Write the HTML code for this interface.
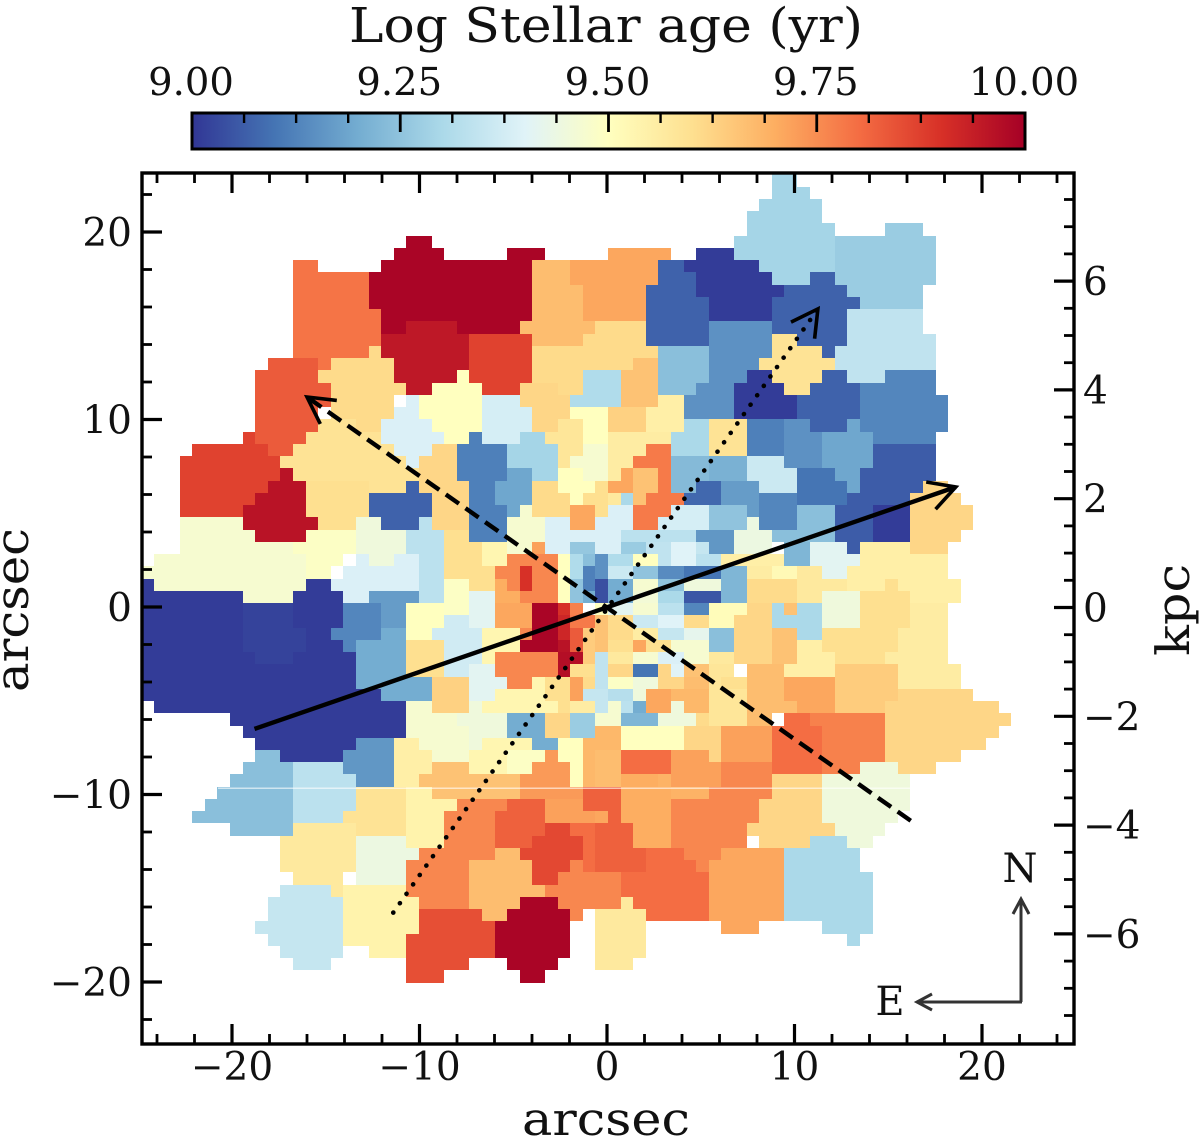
<!DOCTYPE html>
<html lang="en">
<head>
<meta charset="utf-8">
<title>Log Stellar age map</title>
<style>
html,body{margin:0;padding:0;background:#fff;}
svg{display:block;}
text{font-family:"DejaVu Serif","Liberation Serif",serif;fill:#111;}
</style>
</head>
<body>
<svg id="chart" xmlns="http://www.w3.org/2000/svg" width="1200" height="1138" viewBox="0 0 1200 1138">
<defs><linearGradient id="cbar-gradient" x1="0" y1="0" x2="1" y2="0"></linearGradient></defs>
<g id="map" shape-rendering="crispEdges"></g>
<rect x="218" y="787.6" width="712" height="1.2" fill="#fff" fill-opacity="0.75"></rect>
<g id="lines"></g>
<g id="axes"></g>
<g id="colorbar"></g>
<text x="606" y="42" font-size="48" text-anchor="middle" textLength="514" lengthAdjust="spacingAndGlyphs">Log Stellar age (yr)</text>
<text x="606" y="1135" font-size="46" text-anchor="middle" textLength="168" lengthAdjust="spacingAndGlyphs">arcsec</text>
<text transform="translate(28,610) rotate(-90)" font-size="46" text-anchor="middle" textLength="164" lengthAdjust="spacingAndGlyphs">arcsec</text>
<text transform="translate(1189,610) rotate(-90)" font-size="46" text-anchor="middle" textLength="92" lengthAdjust="spacingAndGlyphs">kpc</text>
<g fill="none" stroke="#333" stroke-width="3">
<path d="M1021 1002V899M1013 914L1021 899L1029 914"></path>
<path d="M1022 1002H917M932 994L917 1002L932 1010"></path>
</g>
<text x="1020" y="882" font-size="40" text-anchor="middle">N</text>
<text x="890" y="1015" font-size="40" text-anchor="middle">E</text>
</svg>
<script>
const cmapStops = ["#313695","#4575b4","#74add1","#abd9e9","#e0f3f8","#ffffbf","#fee090","#fdae61","#f46d43","#d73027","#a50026"];
const ageMin = 9.0;
const ageMax = 10.0;
const xTickLabels = [-20,-10,0,10,20];
const xMinorTicks = [-24,-22,-18,-16,-14,-12,-8,-6,-4,-2,2,4,6,8,12,14,16,18,22,24];
const yTickLabels = [-20,-10,0,10,20];
const yMinorTicks = [-22,-18,-16,-14,-12,-8,-6,-4,-2,2,4,6,8,12,14,16,18,22];
const kpcTickLabels = [-6,-4,-2,0,2,4,6];
const kpcMinorTicks = [-7.5,-7,-6.5,-5.5,-5,-4.5,-3.5,-3,-2.5,-1.5,-1,-0.5,0.5,1,1.5,2.5,3,3.5,4.5,5,5.5,6.5,7,7.5];
const cbarTickLabels = [9.00,9.25,9.50,9.75,10.00];
const cbarMinorTicks = [9.0625,9.125,9.1875,9.3125,9.375,9.4375,9.5625,9.625,9.6875,9.8125,9.875,9.9375];
const solidAxis = [-18.8,-6.5,18.6,6.4];
const dashedAxis = [16.2,-11.4,-16.0,11.2];
const dottedAxis = [-11.4,-16.3,11.25,15.9];

/* Voronoi-bin ages and spaxel footprints [col0,col1,row0,row1] */
const nwAges = [9.79,9.99,9.95,9.87,9.67,9.71,9.83,9.61,9.59,9.62,
9.87,9.96,9.60,9.07,9.47,9.49,9.45,9.33,9.39,9.17,
9.50,9.38,9.39,9.12,9.19,9.29,9.62,9.61,9.31,9.66,
9.58,9.50,9.47,9.50,9.61,9.60,9.71,9.47,9.39,9.60,
9.53,9.49,9.76,9.70,9.72,9.90,9.50,9.26,9.31,9.25,
9.24,9.12,9.20,9.15,9.04];
const nwBins = [
[[-25,-23,27,28],[-25,-19,24,27],[-25,-18,21,24],[-25,-19,20,21],[-23,-22,19,20]],
[[-18,-5,27,28],[-17,-13,28,29],[-16,-14,29,30],[-8,-5,28,29],[-19,-6,24,27],[-18,-6,23,24],[-18,-16,22,23],[-12,-7,22,23]],
[[-16,-12,22,23],[-18,-11,20,22],[-17,-11,19,20],[-17,-12,18,19],[-16,-14,17,18]],
[[-11,-6,18,22],[-10,-7,17,18]],
[[-6,-3,27,28],[-6,-2,26,27],[-6,-1,23,26],[-7,-1,22,23],[-6,-2,21,22]],
[[0,5,28,29],[-3,4,26,28],[-1,4,23,26],[-2,-1,23,26]],
[[-27,-23,19,20],[-28,-23,18,19],[-28,-22,16,18],[-28,-23,14,16],[-28,-24,13,14],[-27,-25,12,13]],
[[-19,-18,20,21],[-22,-17,18,20],[-23,-22,18,19],[-22,-16,17,18],[-22,-17,15,17],[-20,-18,14,15]],
[[-23,-20,14,15],[-24,-18,13,14],[-25,-17,12,13],[-26,-16,11,12],[-25,-15,10,11],[-19,-16,9,10]],
[[-15,-12,9,12],[-14,-12,12,13],[-15,-11,9,10],[-14,-11,6,9],[-13,-11,5,6]],
[[-29,-28,13,14],[-33,-27,12,13],[-34,-26,10,12],[-34,-27,9,10],[-34,-28,8,9],[-34,-29,7,8]],
[[-26,-25,10,11],[-27,-24,9,10],[-28,-24,8,9],[-29,-24,7,8],[-29,-23,6,7],[-28,-24,5,6]],
[[-24,-19,7,10],[-23,-20,6,7]],
[[-16,-15,9,10],[-19,-14,7,9],[-18,-15,6,7]],
[[-34,-29,6,7],[-34,-28,5,6],[-34,-25,4,5],[-36,-24,3,4],[-37,-24,2,3],[-36,-24,1,2],[-29,-25,0,1]],
[[-24,-20,5,6],[-25,-20,4,5],[-24,-21,3,4],[-24,-22,2,3],[-24,-22,1,2]],
[[-20,-18,6,7],[-20,-16,4,6],[-19,-17,3,4]],
[[-15,-14,6,7],[-16,-13,4,6],[-15,-13,0,4]],
[[-21,-15,1,3],[-20,-19,3,4],[-22,-21,1,2],[-21,-19,0,1],[-17,-15,3,4]],
[[-19,-15,0,1]],
[[-12,-11,18,19],[-14,-10,17,18],[-15,-10,15,17],[-14,-10,14,15],[-13,-11,13,14]],
[[-10,-7,16,17],[-10,-6,14,16],[-10,-7,13,14]],
[[-16,-15,16,17],[-17,-15,15,16],[-18,-14,14,15],[-18,-13,13,14],[-17,-14,12,13],[-16,-15,11,12]],
[[-11,-10,13,14],[-12,-8,10,13],[-11,-9,8,10],[-11,-8,5,8]],
[[-8,-6,10,11],[-9,-6,8,10],[-8,-7,7,8]],
[[-7,-5,13,14],[-8,-4,11,13],[-6,-4,10,11]],
[[-7,-4,17,18],[-7,-3,16,17],[-6,-3,14,16]],
[[-1,3,22,23],[-2,3,21,22],[-6,4,20,21],[-6,2,19,20],[-6,-2,18,19],[-4,-2,17,18]],
[[-2,1,17,19],[-3,1,16,17]],
[[2,4,19,20],[1,4,16,19]],
[[-4,-2,14,15],[-5,-2,13,14],[-4,-2,12,13],[-4,-3,11,12]],
[[-3,0,15,16],[-2,0,13,15]],
[[-2,0,12,13],[-3,0,11,12],[-2,0,10,11]],
[[-4,-2,10,11],[-4,-1,9,10],[-3,-2,8,9]],
[[-6,-4,7,10],[-4,-3,7,9]],
[[-1,0,8,10],[-2,-1,8,9],[-1,0,7,8]],
[[-3,-1,6,8]],
[[-7,-6,7,8],[-8,-5,5,7],[-8,-6,4,5]],
[[-5,-3,5,7],[-5,-3,4,5],[-3,0,5,6],[-1,0,6,7],[-1,0,4,5]],
[[-13,-11,5,6],[-13,-10,4,5],[-13,-9,2,4],[-11,-9,1,2]],
[[-10,-8,3,5]],
[[-13,-11,0,2]],
[[-9,-7,2,3],[-8,-6,3,4],[-6,-4,1,4],[-7,-4,0,1],[-8,-7,1,2]],
[[-9,-8,1,2],[-9,-7,0,1]],
[[-6,-5,4,5]],
[[-7,-6,1,3]],
[[-4,-3,0,4]],
[[-3,-1,4,5]],
[[-3,-2,2,4]],
[[-3,-2,0,2]],
[[-2,-1,3,4]],
[[-2,-1,1,3]],
[[-2,-1,0,1]],
[[-1,0,2,4]],
[[-1,0,0,2]]
];

const neAges = [9.07,9.01,9.29,9.27,9.07,9.34,9.15,9.24,9.59,9.01,
9.07,9.13,9.12,9.15,9.36,9.19,9.10,9.06,9.06,9.01,
9.62,9.55,9.78,9.66,9.71,9.56,9.55,9.63,9.30,9.59,
9.23,9.21,9.08,9.17,9.13,9.24,9.22,9.25,9.38,9.44,
9.16,9.33,9.39,9.30,9.57,9.39,9.27,9.34,9.40,9.35,
9.33,9.34,9.31,9.50,9.36,9.25,9.14,9.10,9.20,9.47,
9.25,9.45,9.20,9.46,9.30,9.05,9.22,9.55,9.56,9.52,
9.61,9.57,9.41,9.55,9.45,9.60];
const neBins = [
[[4,6,27,28],[4,7,26,27],[3,7,25,26],[3,8,21,25]],
[[7,11,28,29],[6,12,27,28],[7,13,26,27],[7,14,25,26],[8,13,23,25]],
[[13,15,34,35],[13,16,33,34],[12,17,32,33],[11,17,31,32],[11,18,30,31],[10,18,28,30],[12,18,27,28],[13,16,26,27]],
[[22,25,30,31],[18,26,26,30],[19,25,25,26],[20,25,24,25]],
[[16,18,26,27],[14,19,25,26],[13,20,24,25],[13,19,22,24],[15,19,21,22],[17,18,20,21]],
[[19,25,22,24],[19,26,21,22],[18,26,19,21],[19,22,18,19]],
[[8,13,20,23],[8,12,19,20],[8,11,18,19],[7,10,17,18],[6,10,15,17]],
[[4,8,19,21],[4,8,18,19],[4,7,17,18]],
[[13,15,21,22],[13,17,20,21],[12,18,19,20],[13,17,18,19],[14,16,17,18]],
[[11,13,18,19],[10,14,17,18],[10,15,15,17]],
[[17,19,18,19],[16,20,17,18],[15,20,15,17],[16,19,14,15]],
[[22,26,18,19],[20,26,17,18],[20,27,14,17],[21,26,13,14]],
[[11,14,12,15]],
[[14,16,14,15],[14,17,11,14]],
[[11,14,11,12],[11,15,10,11],[12,15,9,10]],
[[17,21,11,14],[18,20,10,11],[19,20,9,10],[19,20,14,15]],
[[15,18,10,11],[15,19,8,10]],
[[21,26,11,13],[20,26,10,11],[20,25,9,10],[21,24,8,9]],
[[19,21,8,9],[18,21,5,8],[19,20,4,5]],
[[21,24,5,8]],
[[25,27,9,10],[24,28,8,9],[24,29,6,8],[24,28,5,6],[24,27,4,5]],
[[20,24,4,5],[20,27,2,4],[22,28,0,2],[18,22,1,2]],
[[3,5,12,13],[2,5,11,12],[4,5,9,11],[3,6,8,9],[2,5,7,8],[1,4,6,7]],
[[2,4,9,11],[2,3,8,9]],
[[0,2,9,10],[1,2,10,11]],
[[0,5,13,14],[0,3,12,13],[0,2,11,12],[0,1,10,11]],
[[4,6,16,17],[3,6,14,16]],
[[0,3,14,16]],
[[6,8,14,15],[5,8,12,14]],
[[8,11,12,15]],
[[5,8,10,12],[5,7,9,10]],
[[8,11,10,12]],
[[7,9,9,10],[6,9,8,9]],
[[9,12,8,10],[11,12,7,8]],
[[12,15,6,9]],
[[15,18,5,8],[13,18,5,6]],
[[14,16,3,5]],
[[8,11,6,8]],
[[6,8,6,8],[4,6,6,7],[5,6,7,8]],
[[11,12,6,7],[10,13,4,6]],
[[7,10,5,6],[8,10,4,5]],
[[1,7,5,6]],
[[0,2,7,8],[0,1,4,7],[1,2,6,7]],
[[1,2,8,9]],
[[0,1,8,9]],
[[1,1,4,4]],
[[1,3,4,5]],
[[3,5,4,5],[4,5,3,4]],
[[5,7,3,5]],
[[7,8,4,5]],
[[7,9,3,4]],
[[1,1,3,3]],
[[0,2,3,4]],
[[2,4,3,4]],
[[0,2,2,3]],
[[2,4,2,3]],
[[4,6,2,3]],
[[6,9,2,3]],
[[0,2,1,2]],
[[2,4,1,2]],
[[4,6,1,2]],
[[6,9,1,2]],
[[0,2,0,1]],
[[2,4,0,1]],
[[4,6,0,1]],
[[6,9,0,1]],
[[9,11,0,3]],
[[9,14,3,4]],
[[11,13,2,3]],
[[13,15,2,3]],
[[11,15,0,2]],
[[15,19,1,3],[15,17,0,1]],
[[16,19,4,5],[16,20,3,4],[17,19,2,3]],
[[19,21,2,3]],
[[17,20,0,1]],
[[20,24,0,1],[22,23,1,2]]
];

const seRowAges = [9.50,9.41,9.47,9.33,9.13,9.51,
9.66,9.61,9.36,9.40,9.61,
9.66,9.61,9.56,9.35,9.42,9.24,
9.66,9.60,9.71,9.60,9.47,
9.34,9.57,9.47,9.39,9.47,9.57,
9.62,9.10,9.62,9.40,9.66,9.58,
9.49,9.45,9.62,9.67,9.58,9.60,
9.32,9.45,9.71,9.68,9.58,
9.47,9.33,9.20,9.45,9.68,
9.47,9.22,9.45,9.61,9.58,
9.68,9.50,9.62,9.72,
9.67,9.80,9.72,9.62,
9.72,9.76];
const seRowBins = [
[[-1,0,-1,0]],[[0,2,-1,0]],[[2,4,-1,0]],[[4,6,-1,0]],[[6,8,-1,0]],[[8,11,-1,0],[8,10,-2,-1]],
[[-1,0,-2,-1]],[[0,2,-2,-1]],[[2,4,-2,-1]],[[4,6,-2,-1]],[[6,8,-2,-1]],
[[-1,0,-3,-2]],[[0,2,-3,-2]],[[2,4,-3,-2]],[[4,6,-3,-2]],[[6,8,-3,-2]],[[8,10,-4,-2]],
[[-1,0,-4,-3]],[[0,2,-4,-3]],[[2,3,-4,-3]],[[3,5,-4,-3]],[[5,8,-4,-3]],
[[-1,0,-7,-4]],[[0,2,-5,-4]],[[2,4,-5,-4]],[[4,6,-5,-4]],[[6,8,-5,-4]],[[8,10,-5,-4]],
[[0,2,-6,-5]],[[2,4,-6,-5]],[[4,5,-6,-5]],[[5,6,-6,-5]],[[6,8,-6,-5]],[[8,10,-6,-5]],
[[0,2,-7,-6]],[[2,4,-7,-6]],[[4,6,-7,-6]],[[6,8,-7,-6]],[[8,9,-7,-6]],[[9,11,-7,-6]],
[[0,2,-8,-7]],[[2,3,-8,-7]],[[3,5,-9,-7]],[[5,8,-8,-7]],[[8,11,-10,-7]],
[[0,1,-9,-8]],[[1,2,-9,-8]],[[2,3,-9,-8]],[[5,6,-9,-8]],[[6,8,-9,-8]],
[[-1,1,-10,-9]],[[1,4,-10,-9]],[[4,7,-10,-9]],[[7,8,-10,-9]],[[10,11,-10,-9]],
[[-1,1,-12,-10]],[[1,6,-12,-10]],[[6,9,-12,-10]],[[9,13,-13,-10]],
[[-1,1,-15,-12]],[[1,5,-14,-12]],[[5,8,-13,-12]],[[8,9,-13,-12]],
[[5,9,-15,-13]],[[9,13,-15,-13]]
];

const seAges = [9.62,9.30,9.66,9.30,9.45,9.60,9.56,9.55,9.67,9.71,
9.64,9.62,9.80,9.77,9.45,9.62,9.30,9.71,9.80,9.76,
9.70,9.69,9.82,9.71,9.82,9.76,9.57];
const seBins = [
[[11,13,-1,0],[10,13,-3,-1],[10,13,-5,-3]],
[[13,14,-1,0],[13,15,-2,-1],[15,17,-3,0]],
[[13,15,-5,-2],[14,15,-1,0]],
[[15,15,-1,-1]],
[[17,20,-2,0]],
[[20,24,-2,-0],[17,23,-4,-2],[18,22,-5,-4]],
[[24,27,-2,0],[23,27,-4,-2],[22,27,-5,-4],[23,28,-7,-5]],
[[15,17,-4,-3],[15,18,-5,-4],[14,18,-6,-5]],
[[11,14,-9,-5],[11,15,-9,-8],[11,13,-10,-9]],
[[14,18,-8,-6],[15,18,-9,-8]],
[[18,23,-9,-5]],
[[23,29,-8,-7],[22,31,-9,-8],[22,32,-10,-9],[22,31,-11,-10],[22,30,-12,-11],[22,28,-13,-12],[23,26,-14,-13]],
[[14,16,-10,-9],[13,17,-14,-10]],
[[16,17,-10,-9],[17,22,-13,-9],[17,20,-14,-13]],
[[20,23,-14,-13],[17,24,-17,-14],[17,23,-18,-17],[18,22,-19,-18],[19,21,-20,-19]],
[[13,17,-15,-14],[12,17,-18,-15],[11,18,-19,-18],[12,16,-20,-19]],
[[16,19,-20,-19],[14,20,-22,-20],[14,21,-26,-22],[17,21,-27,-26],[19,20,-28,-27]],
[[9,14,-21,-20],[8,14,-26,-21],[9,12,-27,-26]],
[[3,6,-21,-20],[2,7,-22,-21],[1,8,-24,-22],[2,8,-25,-24],[3,8,-26,-25]],
[[8,13,-16,-15],[5,12,-18,-16],[5,11,-20,-18],[6,9,-21,-20],[7,8,-22,-21]],
[[1,4,-15,-14],[1,5,-18,-15],[2,5,-20,-18]],
[[5,8,-16,-15],[4,5,-15,-14]],
[[-2,1,-17,-15],[0,1,-18,-17]],
[[-1,0,-18,-17]],
[[-1,2,-20,-18],[-1,3,-22,-20]],
[[-1,1,-25,-22]],
[[1,2,-25,-24],[-1,3,-29,-25],[-1,2,-30,-29]]
];

const swAges = [
9.01,9.02,9.13,9.17,9.20,
9.50,9.60,9.63,9.49,9.37,
9.41,9.53,9.41,9.71,9.76,
9.99,9.90,9.92,9.96,9.97,
9.77,9.78,9.83,9.64,9.60,
9.72,9.61,9.35,9.53,9.60,
9.60,9.56,9.45,9.47,9.20,
9.62,9.27,9.53,9.49,9.50,
9.68,9.73,9.55,9.66,9.16,
9.72,9.76,9.82,9.86,9.99,
9.67,9.80,9.76,9.85,9.54,
9.35,9.57,9.44,9.59,9.54,
9.24,9.33];
const swBins = [
[[-37,-36,1,2],[-37,-29,0,1],[-25,-21,0,1],[-24,-22,1,2],[-37,-21,-2,0],[-37,-22,-3,-2],[-37,-21,-4,-3],[-37,-20,-7,-4],[-37,-18,-8,-7],[-36,-16,-9,-8],[-30,-16,-10,-9],[-29,-16,-11,-10],[-28,-20,-12,-11],[-26,-21,-13,-12]],
[[-29,-25,-4,0],[-25,-24,-4,-2],[-28,-25,-5,-4]],
[[-21,-18,-3,0],[-22,-21,-3,-2],[-21,-20,-4,-3]],
[[-18,-16,-2,0]],
[[-18,-16,-3,-2],[-20,-16,-6,-3],[-20,-18,-7,-6],[-18,-14,-8,-6]],

[[-16,-13,-3,0]],
[[-16,-13,-6,-3]],
[[-14,-11,-9,-6]],
[[-13,-11,-1,0]],
[[-13,-11,-2,-1],[-14,-11,-3,-2],[-11,-10,-3,-2],[-13,-10,-5,-3],[-13,-11,-6,-5]],

[[-11,-9,-2,1]],
[[-10,-7,-4,-2],[-10,-9,-5,-4]],
[[-11,-8,-7,-5],[-11,-9,-8,-7]],
[[-9,-6,-2,0]],
[[-9,-4,-6,-4],[-8,-6,-7,-6],[-7,-6,-3,-2]],

[[-6,-4,-3,0],[-7,-4,-4,-3]],
[[-4,-3,-1,0]],
[[-4,-3,-3,-1]],
[[-4,-3,-4,-3]],
[[-4,-2,-5,-4],[-4,-3,-6,-5]],

[[-3,-2,-1,0]],
[[-3,-1,-2,-1]],
[[-3,-2,-4,-2]],
[[-2,-1,-5,-2]],
[[-3,-1,-6,-5]],

[[-3,-2,-8,-6]],
[[-2,-1,-7,-6]],
[[-2,0,-8,-7],[-1,0,-9,-8]],
[[-9,-5,-8,-7],[-6,-5,-7,-6],[-10,-4,-9,-8]],
[[-5,-3,-8,-6]],

[[-4,-3,-9,-8]],
[[-3,-1,-9,-8]],
[[-11,-10,-9,-8],[-12,-8,-10,-9],[-11,-8,-11,-10],[-11,-10,-12,-11]],
[[-16,-14,-10,-8],[-14,-12,-10,-9],[-16,-11,-11,-10],[-15,-11,-12,-11],[-14,-11,-13,-12]],
[[-8,-5,-11,-9],[-6,-4,-12,-11]],

[[-5,-3,-11,-9]],
[[-3,-1,-11,-9]],
[[-10,-6,-12,-11],[-11,-8,-14,-12]],
[[-8,-5,-13,-12],[-8,-6,-14,-13]],
[[-4,-2,-12,-11],[-4,-1,-13,-12],[-3,-2,-15,-13]],

[[-2,0,-12,-11],[-1,0,-11,-10],[-2,-1,-15,-12]],
[[-5,-4,-13,-12],[-6,-3,-14,-13],[-7,-3,-15,-14],[-7,-2,-16,-15]],
[[-17,-15,-12,-11],[-17,-14,-14,-12],[-17,-15,-15,-14]],
[[-14,-11,-14,-13],[-15,-7,-15,-14],[-14,-7,-16,-15]],
[[-20,-17,-12,-11],[-21,-17,-14,-12],[-20,-17,-15,-14]],

[[-5,-2,-17,-16],[-5,-1,-18,-17]],
[[-12,-8,-17,-16],[-13,-9,-20,-17],[-15,-9,-21,-20],[-16,-11,-25,-21]],
[[-8,-5,-17,-16],[-9,-5,-18,-17],[-9,-6,-20,-18],[-6,-5,-19,-18]],
[[-5,-3,-19,-18],[-6,-2,-20,-19],[-7,-2,-21,-20],[-6,-3,-22,-21],[-6,-4,-23,-22]],
[[-7,-4,-25,-24],[-8,-3,-26,-25],[-9,-3,-29,-26],[-8,-4,-30,-29],[-7,-5,-31,-30]],

[[-9,-7,-21,-20],[-11,-6,-23,-21],[-11,-5,-24,-23],[-11,-7,-25,-24],[-10,-8,-26,-25]],
[[-3,-1,-19,-18],[-2,-1,-22,-19]],
[[-3,-2,-22,-21],[-4,-1,-23,-22],[-5,-1,-24,-23],[-4,-1,-25,-24],[-3,-2,-26,-25]],
[[-15,-10,-26,-25],[-16,-9,-29,-26],[-16,-11,-30,-29],[-16,-13,-31,-30]],
[[-21,-16,-24,-23],[-21,-15,-27,-24],[-21,-16,-28,-27],[-19,-16,-29,-28]],

[[-26,-22,-24,-23],[-27,-21,-26,-24],[-28,-21,-27,-26],[-27,-21,-28,-27],[-26,-21,-29,-28],[-25,-22,-30,-29]],
[[-25,-20,-19,-18],[-26,-20,-22,-19],[-25,-21,-23,-22],[-22,-21,-24,-23]],
[[-20,-16,-23,-19],[-16,-15,-21,-20]],
[[-20,-16,-17,-15],[-21,-16,-18,-17],[-20,-16,-19,-18]],
[[-16,-14,-16,-15],[-16,-12,-17,-16],[-16,-13,-20,-17]],

[[-28,-26,-13,-12],[-29,-25,-14,-13],[-30,-25,-15,-14],[-31,-25,-16,-15],[-32,-25,-17,-16],[-33,-25,-18,-17],[-30,-25,-19,-18]],
[[-25,-21,-14,-13],[-25,-20,-17,-14],[-25,-21,-18,-17]]
];

/* scales */
function xScale(a){return 607+18.75*a;}
function yScale(a){return 607-18.75*a;}
function kpcScale(k){return 607.5-54.4*k;}
function cbarScale(v){return 192+833*(v-ageMin)/(ageMax-ageMin);}
function colGrid(c){return 0.053+0.672*c;}
function rowGrid(r){return 0.213+0.6533*r;}
function hexToRgb(h){return [1,3,5].map(function(i){return parseInt(h.substr(i,2),16);});}
function ageColor(v){
  var t=Math.max(0,Math.min(1,(v-ageMin)/(ageMax-ageMin)))*(cmapStops.length-1);
  var i=Math.min(Math.floor(t),cmapStops.length-2),f=t-i;
  var a=hexToRgb(cmapStops[i]),b=hexToRgb(cmapStops[i+1]);
  return 'rgb('+a.map(function(x,k){return Math.round(x+(b[k]-x)*f);}).join(',')+')';
}
var NS='http://www.w3.org/2000/svg';
function mk(parent,tag,attrs){
  var el=document.createElementNS(NS,tag);
  for(var k in attrs){el.setAttribute(k,attrs[k]);}
  parent.appendChild(el);
  return el;
}

/* map */
var mapG=document.getElementById('map');
function drawBins(ages,bins,region){
  bins.forEach(function(rects,i){
    var g=mk(mapG,'g',{fill:ageColor(ages[i])});
    
    
    rects.forEach(function(b){
      if(b[0]===b[1]||b[2]===b[3])return;
      var x0=Math.round(xScale(colGrid(b[0]))),x1=Math.round(xScale(colGrid(b[1]))),y0=Math.round(yScale(rowGrid(b[3]))),y1=Math.round(yScale(rowGrid(b[2])));
      var cell=mk(g,'rect',{x:x0,y:y0,width:x1-x0,height:y1-y0});
      
      
    });
  });
}
drawBins(nwAges,nwBins,'nw');
drawBins(neAges,neBins,'ne');
drawBins(seRowAges,seRowBins,'core');
drawBins(seAges,seBins,'se');
drawBins(swAges,swBins,'sw');

/* arrows */
var linesG=document.getElementById('lines');
function drawAxisArrow(vals,width,dash,cap,name){
  var x0=xScale(vals[0]),y0=yScale(vals[1]),x1=xScale(vals[2]),y1=yScale(vals[3]);
  var line=mk(linesG,'line',{x1:x0,y1:y0,x2:x1,y2:y1,stroke:'#000','stroke-width':width,'stroke-dasharray':dash,'stroke-linecap':cap});
  
  
  var ang=Math.atan2(y1-y0,x1-x0),L=30,sp=0.5;
  var p=[x1-L*Math.cos(ang-sp),y1-L*Math.sin(ang-sp),x1,y1,x1-L*Math.cos(ang+sp),y1-L*Math.sin(ang+sp)];
  var head=mk(linesG,'polyline',{points:p.map(function(v){return v.toFixed(1);}).join(' '),fill:'none',stroke:'#000','stroke-width':3.6});
  
  
}
drawAxisArrow(solidAxis,4.4,'none','butt','major-axis-arrow');
drawAxisArrow(dashedAxis,4.4,'16 8','butt','minor-axis-arrow');
drawAxisArrow(dottedAxis,4.6,'0.1 11.4','round','bar-axis-arrow');

/* axes */
var axesG=document.getElementById('axes');
var L=142,R=1074,T=173,B=1044;
var frame=mk(axesG,'rect',{x:L,y:T,width:R-L,height:B-T,fill:'none',stroke:'#000','stroke-width':3.4});


function tick(x1,y1,x2,y2,w,name){
  var t=mk(axesG,'line',{x1:x1,y1:y1,x2:x2,y2:y2,stroke:'#000','stroke-width':w});
  
  
}
function label(parent,x,y,txt,anchor,size,name){
  var t=mk(parent,'text',{x:x,y:y,'text-anchor':anchor,'font-size':size});
  t.textContent=txt;
  
  
}
function fmt(v){return (v<0?'\u2212':'')+Math.abs(v);}
xTickLabels.forEach(function(v){
  var x=xScale(v);
  tick(x,B,x,B-20,3.2,'x-major-tick');
  tick(x,T,x,T+20,3.2,'x-top-major-tick');
  label(axesG,x,1080,fmt(v),'middle',39,'x-tick-label');
});
xMinorTicks.forEach(function(v){
  var x=xScale(v);
  tick(x,B,x,B-10,2.8,'x-minor-tick');
  tick(x,T,x,T+10,2.8,'x-top-minor-tick');
});
yTickLabels.forEach(function(v){
  var y=yScale(v);
  tick(L,y,L+20,y,3.2,'y-major-tick');
  label(axesG,132,y+14,fmt(v),'end',39,'y-tick-label');
});
yMinorTicks.forEach(function(v){
  var y=yScale(v);
  tick(L,y,L+10,y,2.8,'y-minor-tick');
});
kpcTickLabels.forEach(function(v){
  var y=kpcScale(v);
  tick(R,y,R-20,y,3.2,'kpc-major-tick');
  label(axesG,1083,y+14,fmt(v),'start',39,'kpc-tick-label');
});
kpcMinorTicks.forEach(function(v){
  var y=kpcScale(v);
  tick(R,y,R-10,y,2.8,'kpc-minor-tick');
});

/* colorbar */
var cbarG=document.getElementById('colorbar');
var grad=document.getElementById('cbar-gradient');
cmapStops.forEach(function(c,i){
  mk(grad,'stop',{offset:(i/(cmapStops.length-1)),'stop-color':c});
});
var bar=mk(cbarG,'rect',{x:192,y:113,width:833,height:36,fill:'url(#cbar-gradient)',stroke:'#000','stroke-width':3});


cbarTickLabels.forEach(function(v){
  var x=cbarScale(v);
  var t=mk(cbarG,'line',{x1:x,y1:113,x2:x,y2:132,stroke:'#000','stroke-width':2.8});
  
  
  label(cbarG,x-1,95,v.toFixed(2),'middle',38.5,'colorbar-tick-label');
});
cbarMinorTicks.forEach(function(v){
  var x=cbarScale(v);
  var t=mk(cbarG,'line',{x1:x,y1:113,x2:x,y2:123,stroke:'#000','stroke-width':2.4});
  
  
});
</script>
</body>
</html>
